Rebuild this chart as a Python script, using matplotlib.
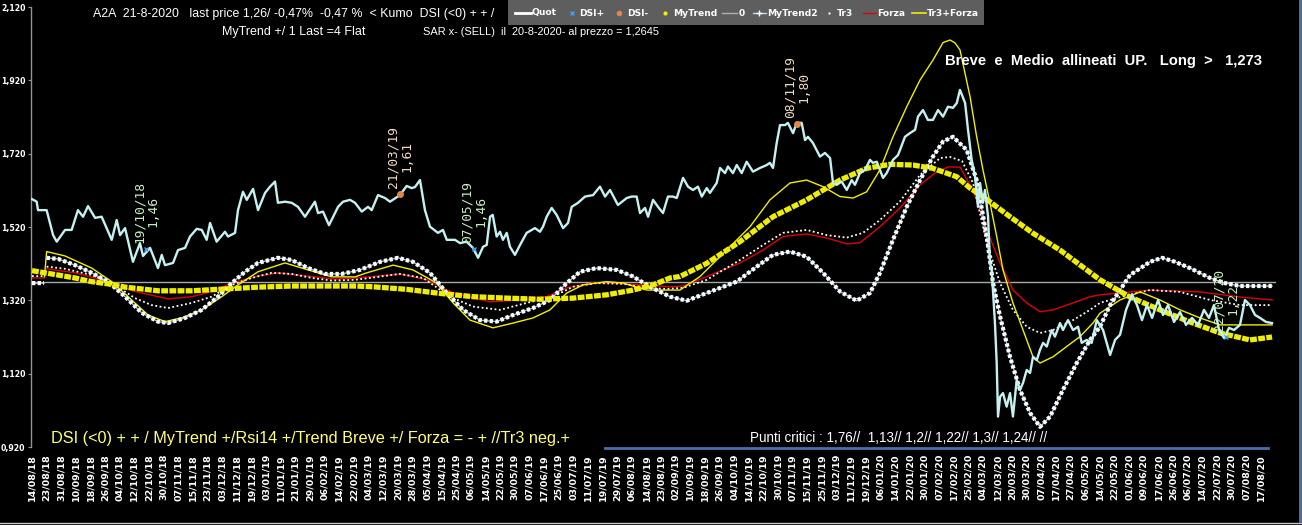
import numpy as np
import matplotlib
matplotlib.use("Agg")
import matplotlib.pyplot as plt
from matplotlib import font_manager
from matplotlib.lines import Line2D
from matplotlib.patches import Rectangle

nan = float("nan")

# ---------------- data ----------------
tick_labels = [
    "14/08/18", "23/08/18", "31/08/18", "10/09/18", "18/09/18", "26/09/18", "04/10/18", "12/10/18",
    "22/10/18", "30/10/18", "07/11/18", "15/11/18", "23/11/18", "03/12/18", "11/12/18", "19/12/18",
    "03/01/19", "11/01/19", "21/01/19", "29/01/19", "06/02/19", "14/02/19", "22/02/19", "04/03/19",
    "12/03/19", "20/03/19", "28/03/19", "05/04/19", "15/04/19", "25/04/19", "06/05/19", "14/05/19",
    "22/05/19", "30/05/19", "07/06/19", "17/06/19", "25/06/19", "03/07/19", "11/07/19", "19/07/19",
    "29/07/19", "06/08/19", "14/08/19", "23/08/19", "02/09/19", "10/09/19", "18/09/19", "26/09/19",
    "04/10/19", "14/10/19", "22/10/19", "30/10/19", "07/11/19", "15/11/19", "25/11/19", "03/12/19",
    "11/12/19", "19/12/19", "06/01/20", "14/01/20", "22/01/20", "30/01/20", "07/02/20", "17/02/20",
    "25/02/20", "04/03/20", "12/03/20", "20/03/20", "30/03/20", "07/04/20", "17/04/20", "27/04/20",
    "06/05/20", "14/05/20", "22/05/20", "01/06/20", "09/06/20", "17/06/20", "26/06/20", "06/07/20",
    "14/07/20", "22/07/20", "30/07/20", "07/08/20", "17/08/20",
]

# (time position in tick steps, value)
price = [
    (0.00, 1.596), (0.32, 1.589), (0.41, 1.566), (1.00, 1.566), (1.44, 1.498), (1.69, 1.480), (2.26, 1.512),
    (2.71, 1.512), (3.14, 1.566), (3.49, 1.548), (3.83, 1.577), (4.31, 1.545), (4.76, 1.548), (5.45, 1.485),
    (5.79, 1.539), (6.02, 1.498), (6.36, 1.517), (6.90, 1.425), (7.38, 1.476), (7.59, 1.441), (8.07, 1.463),
    (8.61, 1.408), (8.87, 1.444), (9.09, 1.416), (9.64, 1.422), (9.98, 1.457), (10.46, 1.463), (10.80, 1.494),
    (11.26, 1.515), (11.60, 1.512), (11.94, 1.485), (12.17, 1.531), (12.62, 1.480), (13.19, 1.507), (13.40, 1.494),
    (13.88, 1.504), (14.08, 1.566), (14.42, 1.616), (14.68, 1.594), (15.11, 1.624), (15.45, 1.566), (15.93, 1.613),
    (16.27, 1.630), (16.61, 1.644), (16.81, 1.586), (17.29, 1.589), (17.75, 1.586), (18.18, 1.575), (18.66, 1.548),
    (19.34, 1.589), (19.55, 1.558), (19.89, 1.562), (20.30, 1.525), (20.92, 1.575), (21.26, 1.589), (21.74, 1.594),
    (22.08, 1.586), (22.54, 1.562), (22.97, 1.575), (23.22, 1.566), (23.65, 1.607), (24.13, 1.599), (24.47, 1.589),
    (25.15, 1.607), (25.61, 1.632), (25.95, 1.626), (26.18, 1.629), (26.52, 1.648), (26.86, 1.566), (27.20, 1.521),
    (27.75, 1.504), (28.09, 1.512), (28.35, 1.485), (28.91, 1.485), (29.26, 1.476), (29.71, 1.480), (30.14, 1.463),
    (30.49, 1.436), (30.83, 1.466), (31.08, 1.471), (31.31, 1.548), (31.49, 1.553), (31.76, 1.494), (31.99, 1.507),
    (32.19, 1.485), (32.45, 1.504), (32.67, 1.466), (33.01, 1.444), (33.36, 1.471), (33.81, 1.504), (34.16, 1.512),
    (34.38, 1.517), (34.72, 1.507), (34.93, 1.521), (35.18, 1.548), (35.52, 1.572), (35.86, 1.553), (36.30, 1.517),
    (36.64, 1.531), (36.89, 1.575), (37.32, 1.586), (37.80, 1.603), (38.35, 1.607), (38.82, 1.630), (39.17, 1.603),
    (39.51, 1.621), (40.05, 1.580), (40.65, 1.599), (40.99, 1.603), (41.33, 1.603), (41.56, 1.558), (41.90, 1.572),
    (42.11, 1.548), (42.45, 1.594), (42.79, 1.575), (43.13, 1.558), (43.47, 1.603), (43.81, 1.603), (44.07, 1.599),
    (44.50, 1.654), (44.84, 1.630), (45.18, 1.621), (45.52, 1.630), (45.78, 1.603), (46.12, 1.626), (46.34, 1.613),
    (46.80, 1.640), (47.03, 1.681), (47.37, 1.667), (47.57, 1.685), (47.91, 1.667), (48.17, 1.689), (48.51, 1.667),
    (48.85, 1.698), (49.28, 1.671), (49.76, 1.681), (50.22, 1.689), (50.44, 1.695), (50.65, 1.681), (50.90, 1.749),
    (51.13, 1.798), (51.47, 1.798), (51.67, 1.804), (52.02, 1.776), (52.27, 1.804), (52.61, 1.804), (52.84, 1.757),
    (53.04, 1.766), (53.38, 1.749), (53.86, 1.712), (54.20, 1.722), (54.55, 1.708), (54.75, 1.640), (55.00, 1.635),
    (55.34, 1.644), (55.69, 1.621), (56.03, 1.648), (56.25, 1.635), (56.59, 1.667), (56.94, 1.676), (57.28, 1.703),
    (57.48, 1.695), (57.74, 1.698), (58.17, 1.654), (58.42, 1.667), (58.85, 1.703), (59.19, 1.716), (59.33, 1.730),
    (59.67, 1.766), (60.01, 1.776), (60.36, 1.785), (60.56, 1.821), (60.90, 1.839), (61.24, 1.812), (61.58, 1.812),
    (61.93, 1.839), (62.27, 1.821), (62.61, 1.848), (62.95, 1.845), (63.21, 1.858), (63.43, 1.894), (63.78, 1.858),
    (63.98, 1.785), (64.23, 1.703), (64.46, 1.657), (64.66, 1.575), (64.80, 1.640), (65.00, 1.586), (65.14, 1.621),
    (65.35, 1.548), (65.48, 1.422), (65.60, 1.403), (65.82, 1.258), (65.94, 1.149), (66.03, 1.003), (66.17, 1.057),
    (66.37, 1.067), (66.62, 1.030), (66.85, 1.067), (67.05, 1.003), (67.31, 1.103), (67.53, 1.076), (67.74, 1.095),
    (67.99, 1.130), (68.22, 1.122), (68.42, 1.166), (68.68, 1.157), (68.90, 1.185), (69.11, 1.204), (69.36, 1.194),
    (69.70, 1.239), (69.92, 1.221), (70.27, 1.258), (70.47, 1.239), (70.81, 1.266), (71.16, 1.239), (71.50, 1.248),
    (71.75, 1.204), (72.09, 1.212), (72.43, 1.204), (72.78, 1.266), (73.21, 1.239), (73.69, 1.171), (74.03, 1.212),
    (74.37, 1.226), (74.78, 1.294), (75.19, 1.335), (75.53, 1.307), (75.87, 1.266), (76.21, 1.307), (76.56, 1.272),
    (76.97, 1.321), (77.31, 1.280), (77.65, 1.307), (78.06, 1.261), (78.47, 1.288), (78.88, 1.253), (79.29, 1.272),
    (79.70, 1.253), (80.11, 1.294), (80.45, 1.272), (80.79, 1.307), (81.14, 1.239), (81.48, 1.217), (81.82, 1.245),
    (82.16, 1.239), (82.57, 1.253), (82.91, 1.321), (83.25, 1.307), (83.60, 1.280), (83.94, 1.272), (84.35, 1.261),
    (84.76, 1.258),
]

mytrend = [
    (0.00, 1.401), (0.89, 1.395), (1.78, 1.389), (2.94, 1.381), (4.08, 1.371), (5.19, 1.365), (6.36, 1.356),
    (7.50, 1.351), (8.61, 1.346), (10.92, 1.346), (13.19, 1.351), (15.45, 1.356), (17.75, 1.359), (20.03, 1.359),
    (22.08, 1.359), (23.31, 1.357), (25.61, 1.350), (27.87, 1.339), (30.14, 1.330), (32.45, 1.326), (34.72, 1.323),
    (36.98, 1.326), (39.28, 1.335), (41.08, 1.348), (42.45, 1.362), (43.61, 1.381), (44.29, 1.385), (46.12, 1.421),
    (48.39, 1.480), (50.65, 1.548), (52.95, 1.594), (55.23, 1.648), (57.05, 1.680), (58.65, 1.691), (60.22, 1.689),
    (61.58, 1.680), (63.21, 1.657), (64.12, 1.626), (65.00, 1.603), (66.85, 1.548), (68.42, 1.503), (70.27, 1.457),
    (72.09, 1.403), (73.00, 1.376), (75.05, 1.329), (77.10, 1.294), (79.15, 1.261), (81.20, 1.231), (83.25, 1.212),
    (84.76, 1.220),
]

mytrend2 = [
    (0.00, 1.367), (0.82, 1.367), (0.90, nan),
    (1.00, 1.436), (1.78, 1.433), (2.94, 1.416), (4.08, 1.395), (5.19, 1.371), (6.36, 1.330), (7.50, 1.286),
    (8.61, 1.262), (9.30, 1.258), (10.46, 1.272), (11.60, 1.294), (12.71, 1.330), (13.65, 1.367), (14.56, 1.398),
    (15.45, 1.422), (16.81, 1.436), (17.75, 1.430), (18.87, 1.408), (20.03, 1.392), (21.17, 1.392), (22.42, 1.403),
    (23.79, 1.425), (25.02, 1.436), (26.04, 1.425), (27.20, 1.395), (28.35, 1.340), (29.46, 1.294), (30.62, 1.266),
    (31.76, 1.262), (32.88, 1.280), (34.24, 1.299), (35.41, 1.321), (36.55, 1.367), (37.46, 1.398), (38.60, 1.408),
    (39.97, 1.403), (41.08, 1.385), (42.24, 1.357), (43.61, 1.330), (44.75, 1.319), (46.12, 1.340), (48.17, 1.371),
    (49.54, 1.412), (50.65, 1.444), (51.81, 1.453), (52.95, 1.439), (54.07, 1.395), (55.23, 1.344), (56.37, 1.319),
    (57.28, 1.340), (57.96, 1.395), (58.85, 1.485), (59.79, 1.575), (60.70, 1.648), (61.58, 1.712), (62.27, 1.753),
    (62.95, 1.766), (63.89, 1.730), (64.57, 1.648), (65.26, 1.494), (65.69, 1.367), (66.17, 1.276), (66.85, 1.166),
    (67.53, 1.076), (68.22, 1.013), (68.90, 0.975), (69.59, 1.003), (70.47, 1.076), (71.41, 1.149), (72.32, 1.212),
    (73.00, 1.248), (73.69, 1.307), (75.05, 1.389), (76.42, 1.425), (77.24, 1.436), (78.13, 1.425), (79.15, 1.408),
    (80.52, 1.381), (81.54, 1.367), (82.57, 1.359), (84.76, 1.359),
]

tr3 = [
    (0.00, 1.386), (0.82, 1.386), (0.90, nan),
    (1.00, 1.412), (2.26, 1.406), (4.08, 1.389), (5.45, 1.367), (7.04, 1.326), (8.18, 1.307), (9.30, 1.299),
    (10.92, 1.313), (12.28, 1.330), (13.65, 1.362), (15.02, 1.381), (16.38, 1.395), (17.75, 1.392), (19.12, 1.381),
    (20.49, 1.374), (22.08, 1.376), (23.10, 1.381), (25.15, 1.392), (26.73, 1.381), (28.57, 1.330), (30.14, 1.303),
    (31.99, 1.294), (33.81, 1.313), (35.61, 1.330), (36.98, 1.357), (38.60, 1.367), (40.40, 1.365), (42.02, 1.354),
    (43.38, 1.351), (44.50, 1.354), (46.12, 1.376), (48.39, 1.430), (49.97, 1.471), (51.33, 1.504), (52.95, 1.512),
    (54.32, 1.498), (55.69, 1.491), (56.80, 1.504), (57.96, 1.539), (59.33, 1.590), (60.70, 1.662), (62.07, 1.708),
    (62.75, 1.711), (63.57, 1.700), (64.32, 1.640), (65.26, 1.476), (66.17, 1.367), (67.05, 1.294), (67.99, 1.248),
    (68.90, 1.231), (69.79, 1.239), (71.16, 1.266), (72.32, 1.294), (73.00, 1.313), (74.37, 1.329), (76.42, 1.348),
    (78.47, 1.343), (80.52, 1.321), (82.57, 1.307), (84.76, 1.307),
]

forza = [
    (0.00, 1.381), (0.82, 1.381), (0.90, nan),
    (1.00, 1.406), (2.94, 1.395), (5.19, 1.371), (7.04, 1.344), (9.30, 1.324), (10.92, 1.330), (12.28, 1.344),
    (13.65, 1.367), (15.45, 1.386), (16.81, 1.395), (18.87, 1.386), (20.71, 1.378), (22.08, 1.381), (23.31, 1.385),
    (25.15, 1.392), (26.98, 1.376), (28.78, 1.340), (31.31, 1.316), (33.36, 1.321), (35.18, 1.330), (36.55, 1.354),
    (38.35, 1.368), (40.65, 1.365), (43.61, 1.357), (44.50, 1.359), (46.12, 1.385), (48.39, 1.422), (49.97, 1.457),
    (51.33, 1.494), (52.95, 1.501), (54.32, 1.490), (55.69, 1.474), (56.59, 1.477), (57.96, 1.521), (59.33, 1.572),
    (60.70, 1.635), (61.72, 1.667), (62.61, 1.684), (63.43, 1.683), (64.32, 1.621), (65.26, 1.512), (66.17, 1.422),
    (67.05, 1.348), (67.99, 1.313), (68.90, 1.289), (69.79, 1.294), (71.16, 1.313), (72.32, 1.330), (73.00, 1.335),
    (76.42, 1.348), (79.84, 1.343), (82.57, 1.329), (84.76, 1.321),
]

tr3_forza = [
    (0.85, 1.384), (1.00, 1.453), (2.26, 1.441), (4.08, 1.408), (5.45, 1.371), (6.81, 1.321), (7.93, 1.280),
    (9.09, 1.262), (10.23, 1.272), (11.60, 1.294), (12.97, 1.330), (14.08, 1.362), (15.45, 1.398), (17.29, 1.422),
    (18.87, 1.403), (20.49, 1.384), (22.08, 1.384), (22.88, 1.395), (24.68, 1.416), (26.04, 1.403), (27.66, 1.367),
    (28.78, 1.313), (29.94, 1.266), (31.51, 1.245), (32.88, 1.258), (34.24, 1.272), (35.41, 1.294), (36.55, 1.340),
    (37.66, 1.362), (39.28, 1.371), (40.40, 1.367), (42.02, 1.348), (42.93, 1.348), (44.29, 1.348), (45.66, 1.385),
    (47.48, 1.457), (49.08, 1.521), (50.44, 1.594), (51.81, 1.640), (52.95, 1.648), (54.07, 1.630), (55.23, 1.603),
    (56.12, 1.599), (57.05, 1.616), (57.96, 1.676), (58.85, 1.766), (59.79, 1.848), (60.70, 1.921), (61.58, 1.975),
    (62.27, 2.023), (62.75, 2.030), (63.09, 2.022), (63.43, 2.003), (64.12, 1.875), (64.57, 1.766), (65.00, 1.676),
    (65.48, 1.586), (65.94, 1.494), (66.37, 1.403), (67.05, 1.313), (67.74, 1.239), (68.42, 1.166), (68.90, 1.149),
    (69.79, 1.166), (70.72, 1.194), (71.63, 1.221), (72.52, 1.258), (73.00, 1.285), (74.37, 1.321), (75.74, 1.343),
    (77.10, 1.321), (78.47, 1.294), (79.84, 1.272), (81.20, 1.253), (82.57, 1.253), (84.76, 1.253),
]

zero_level = 1.37
zero_span = (0.0, 84.97)
lower_band = [(39.2, 0.917), (84.5, 0.917)]

# DSI signals: (date, position, price, kind)
dsi_events = [
    ("19/10/18", 7.80, 1.46, "+"),
    ("21/03/19", 25.15, 1.61, "-"),
    ("07/05/19", 30.20, 1.46, "+"),
    ("08/11/19", 52.27, 1.80, "-"),
    ("22/07/20", 81.60, 1.22, "+"),
]

y_ticks = [0.92, 1.12, 1.32, 1.52, 1.72, 1.92, 2.12]

title_line1 = "A2A  21-8-2020   last price 1,26/ -0,47%  -0,47 %  < Kumo  DSI (<0) + + /"
title_line2a = "MyTrend +/ 1 Last =4 Flat"
title_line2b = "SAR x- (SELL)  il  20-8-2020- al prezzo = 1,2645"
signal_text = "Breve  e  Medio  allineati  UP.   Long  >   1,273"
bottom_left_text = "DSI (<0) + + / MyTrend +/Rsi14 +/Trend Breve +/ Forza = - + //Tr3 neg.+"
bottom_right_text = "Punti critici : 1,76//  1,13// 1,2// 1,22// 1,3// 1,24// //"


def xy(pairs):
    a = np.array(pairs, dtype=float)
    return a[:, 0], a[:, 1]


# ---------------- figure ----------------
W, H, DPI = 1302, 525, 100
PX = 14.63  # pixels per tick step

names = {f.name for f in font_manager.fontManager.ttflist}
NARROW = "Liberation Sans Narrow" if "Liberation Sans Narrow" in names else "Liberation Sans"

fig = plt.figure(figsize=(W / DPI, H / DPI), dpi=DPI)
fig.patch.set_facecolor("black")


def fx(x):
    return x / W


def fy(y):
    return 1 - y / H


ax = fig.add_axes([fx(31), fy(447), 1249 / W, 440 / H])
ax.set_facecolor("black")
ax.set_xlim(-1 / PX, (1280 - 32) / PX)
ax.set_ylim(0.92, 2.12)

for s in ["top", "right", "bottom"]:
    ax.spines[s].set_visible(False)
ax.spines["left"].set_color("#9a8f96")
ax.spines["left"].set_linewidth(1.0)

ax.set_yticks(y_ticks)
ax.set_yticklabels([f"{v:.3f}".replace(".", ",") for v in y_ticks])
ax.tick_params(axis="y", colors="#9a8f96", length=2.5, width=0.8, pad=1.5, labelsize=5.6,
               labelcolor="white")
for lab in ax.get_yticklabels():
    lab.set_fontweight("bold")

ax.set_xticks(np.arange(len(tick_labels)))
ax.set_xticklabels(tick_labels, rotation=90, fontsize=6.8, fontweight="bold", color="white")
ax.tick_params(axis="x", length=0, pad=5)

# zero line
ax.plot(list(zero_span), [zero_level, zero_level], color="#a8a8a8", lw=1.0, zorder=1)
bt, bv = xy(lower_band)
ax.plot(bt, bv, color="#4a6fa8", lw=2.0, clip_on=False, zorder=1)

t, v = xy(forza)
ax.plot(t, v, color="#e00000", lw=1.0, zorder=2)
t, v = xy(tr3)
ax.plot(t, v, color="white", lw=1.3, linestyle=(0, (1, 1.4)), zorder=3)
t, v = xy(tr3_forza)
ax.plot(t, v, color="#f0f000", lw=1.0, zorder=3)
t, v = xy(mytrend2)
ax.plot(t, v, color="#9cc4dc", lw=1.0, zorder=4)
ax.plot(t, v, color="white", lw=3.0, linestyle=(0, (0.8, 0.55)), zorder=4)
t, v = xy(mytrend)
ax.plot(t, v, color="#eeee00", lw=3.8, linestyle=(0, (1.3, 0.25)), zorder=5)
t, v = xy(price)
ax.plot(t, v, color="#c4f2f2", lw=1.7, zorder=6, solid_joinstyle="round")

for date, tt, vv, kind in dsi_events:
    if kind == "+":
        col = "#c8f2c0"
        ax.plot([tt], [vv], marker="x", color="#3aa0ff", ms=3, mew=1, zorder=7)
    else:
        col = "#f4dcc0"
        ax.plot([tt], [vv], marker="o", color="#e0884a", ms=5, mew=0, zorder=7)
    ax.annotate(f"{date}\n{vv:.2f}".replace(".", ","), (tt, vv), xytext=(0, 4.5),
                textcoords="offset points", rotation=90, ha="center", va="bottom",
                multialignment="center", fontsize=9.3, family="DejaVu Sans Mono",
                color=col, linespacing=1.05, zorder=8)

renderer = fig.canvas.get_renderer()


def fit_text(x0, x1, y, s, family, fs, **kw):
    tx = fig.text(fx(x0), fy(y), s, fontsize=fs, family=family, ha="left", va="center", **kw)
    bb = tx.get_window_extent(renderer=renderer)
    tx.set_fontsize(fs * (x1 - x0) / bb.width)
    return tx


fit_text(93, 492, 14, title_line1, NARROW, 11, color="white")
fit_text(222, 364, 32, title_line2a, NARROW, 11, color="white")
fit_text(423, 659, 32, title_line2b, NARROW, 11, color="white")
fit_text(945, 1263, 61, signal_text, "Liberation Sans", 11, color="white", fontweight="bold")
fit_text(51, 568, 439, bottom_left_text, NARROW, 11, color="#ffff78")
fit_text(750, 1048, 438, bottom_right_text, NARROW, 11, color="white")

# legend
fig.patches.append(Rectangle((fx(508), fy(25)), (984 - 508) / W, 25 / H, transform=fig.transFigure,
                             facecolor="#5e5e5e", edgecolor="none", zorder=0))
yc = 13
leg_font = dict(color="white", fontsize=6.6, fontweight="bold", va="center", ha="left",
                family="DejaVu Sans")


def leg_line(x0, x1, **kw):
    fig.lines.append(Line2D([fx(x0), fx(x1)], [fy(yc), fy(yc)], transform=fig.transFigure, **kw))


def leg_mark(x, **kw):
    fig.lines.append(Line2D([fx(x)], [fy(yc)], transform=fig.transFigure, linestyle="none", **kw))


leg_line(515, 531, color="white", lw=2)
fig.text(fx(532), fy(yc), "Quot", **leg_font)
leg_mark(572, marker="x", color="#3aa0ff", ms=3, mew=1)
fig.text(fx(579), fy(yc), "DSI+", **leg_font)
leg_mark(619, marker="o", color="#e0884a", ms=4, mew=0)
fig.text(fx(627), fy(yc), "DSI-", **leg_font)
leg_mark(665, marker="o", color="#f0f000", ms=3, mew=0)
fig.text(fx(673), fy(yc), "MyTrend", **leg_font)
leg_line(722, 737, color="#b0b0b0", lw=1)
fig.text(fx(739), fy(yc), "0", **leg_font)
leg_line(753, 766, color="#c0d8e8", lw=1)
leg_mark(759, marker="+", color="white", ms=4, mew=1)
fig.text(fx(767), fy(yc), "MyTrend2", **leg_font)
leg_mark(829, marker="o", color="white", ms=1.6, mew=0)
fig.text(fx(837), fy(yc), "Tr3", **leg_font)
leg_line(863, 876, color="#e00000", lw=1)
fig.text(fx(877), fy(yc), "Forza", **leg_font)
leg_line(912, 926, color="#f0f000", lw=1.2)
fig.text(fx(927), fy(yc), "Tr3+Forza", **leg_font)

# frame lines
fig.lines.append(Line2D([0, 1], [fy(522.5), fy(522.5)], transform=fig.transFigure, color="#c8c8c8", lw=1))
fig.lines.append(Line2D([fx(1299.5), fx(1299.5)], [fy(0), fy(521)], transform=fig.transFigure,
                        color="#5a7398", lw=2))

fig.savefig("out.png", dpi=DPI, facecolor="black")
